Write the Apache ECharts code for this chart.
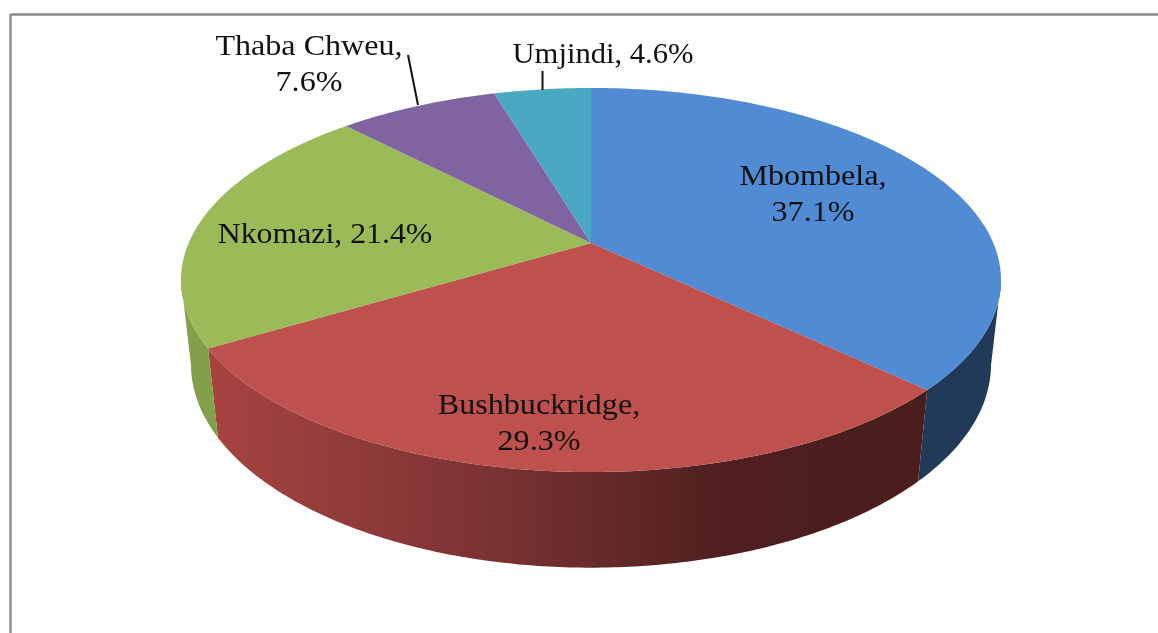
<!DOCTYPE html>
<html><head><meta charset="utf-8">
<style>html,body{margin:0;padding:0;background:#fff}#c{width:1158px;height:633px}</style>
<script src="https://cdn.jsdelivr.net/npm/echarts@6/dist/echarts.min.js"></script>
</head><body><div id="c"></div>
<script>
const names = ['Mbombela', 'Bushbuckridge', 'Nkomazi', 'Thaba Chweu', 'Umjindi'];
const shares = [37.1, 29.3, 21.4, 7.6, 4.6];

const topColors = ['#518bd3', '#be504d', '#9bbb59', '#8064a2', '#4aa8c3'];
const wallColors = ['#213a59', '#a8433f', '#82a04a', '#4d3c61', '#2d6676'];
const labelAt = [[813, 195], [539, 424], [325, 235], [309, 65], [603, 55]];
const labelStretch = [1.07, 1.07, 1.06, 1.07, 1.02];
const labelBreak = [true, true, false, true, false];
const leaders = [null, null, null, [[408, 55], [418, 105]], [[542.5, 71], [542.5, 90]]];

// Perspective camera fitted to the drawing: (X, Y) on the unit disc, Z = depth of the disc.
const cam = {cx: 591, cy: 243, b: 402.3, a: 184.9, c: 85, k: 0.1927, m: 0.024};
function project(theta, z) {
  const X = Math.sin(theta), Y = -Math.cos(theta);
  const w = 1 - cam.k * Y + cam.m * z;
  return [cam.cx + cam.b * X / w, cam.cy + (cam.a * Y + cam.c * z) / w];
}
const total = shares.reduce((s, v) => s + v, 0);
function range(i) {
  let before = 0;
  for (let j = 0; j < i; j++) before += shares[j];
  return [before / total * 2 * Math.PI, (before + shares[i]) / total * 2 * Math.PI];
}
function arc(t0, t1, z) {
  const n = Math.max(4, Math.ceil((t1 - t0) * 90)), pts = [];
  for (let s = 0; s <= n; s++) pts.push(project(t0 + (t1 - t0) * s / n, z));
  return pts;
}
const seriesData = shares.map((v, i) => ({name: names[i], value: [v, i]}));

// Only the part of the rim that faces the camera is drawn: between the two silhouette angles.
const rimFrom = Math.acos(-cam.k), rimTo = 2 * Math.PI - rimFrom;
function renderWall(params, api) {
  const i = api.value(1), r = range(i);
  const t0 = Math.max(r[0], rimFrom), t1 = Math.min(r[1], rimTo);
  if (t1 <= t0) return null;
  const top = arc(t0, t1, 0), bottom = arc(t0, t1, 1);
  const pts = top.concat(bottom.slice().reverse());
  const xs = pts.map(p => p[0]);
  const x0 = Math.min.apply(null, xs), x1 = Math.max.apply(null, xs);
  let fill = wallColors[i];
  if (i === 1) {
    fill = new echarts.graphic.LinearGradient(x0, 0, x1, 0, [
      {offset: 0, color: '#a8433f'},
      {offset: 0.13, color: '#983f3c'},
      {offset: 0.45, color: '#733030'},
      {offset: 0.72, color: '#4f1f1f'},
      {offset: 1, color: '#4a1c1b'}
    ], true);
  }
  return {type: 'polygon', shape: {points: pts}, style: {fill: fill}};
}
function renderTop(params, api) {
  const i = api.value(1), r = range(i);
  const pts = [[cam.cx, cam.cy]].concat(arc(r[0], r[1], 0));
  return {type: 'polygon', shape: {points: pts}, style: {fill: topColors[i]}};
}
function renderLabel(params, api) {
  const i = api.value(1), v = api.value(0);
  const children = [{
    type: 'text', x: labelAt[i][0], y: labelAt[i][1], z2: 30, scaleX: labelStretch[i],
    style: {
      text: names[i] + ',' + (labelBreak[i] ? '\n' : ' ') + v.toFixed(1) + '%',
      fill: '#111', font: '30px "Liberation Serif"', align: 'center', verticalAlign: 'middle',
      lineHeight: 36
    }
  }];
  if (leaders[i]) children.push({
    type: 'line', z2: 20,
    shape: {x1: leaders[i][0][0], y1: leaders[i][0][1], x2: leaders[i][1][0], y2: leaders[i][1][1]},
    style: {stroke: '#111', lineWidth: 2}
  });
  return {type: 'group', children: children};
}

const chart = echarts.init(document.getElementById('c'), null, {renderer: 'canvas'});
chart.setOption({
  animation: false,
  backgroundColor: '#fff',
  graphic: [
    {type: 'line', silent: true, shape: {x1: 10.5, y1: 14.5, x2: 1158, y2: 14.5}, style: {stroke: '#8a8a8a', lineWidth: 2.5}},
    {type: 'line', silent: true, shape: {x1: 10.5, y1: 14, x2: 10.5, y2: 633}, style: {stroke: '#929292', lineWidth: 2.5}}
  ],
  series: [
    {type: 'custom', name: 'walls', coordinateSystem: 'none', renderItem: renderWall, data: seriesData, z: 1, silent: true},
    {type: 'custom', name: 'shares', coordinateSystem: 'none', renderItem: renderTop, data: seriesData, z: 2, silent: true},
    {type: 'custom', name: 'labels', coordinateSystem: 'none', renderItem: renderLabel, data: seriesData, z: 3, silent: true}
  ]
});
</script></body></html>
